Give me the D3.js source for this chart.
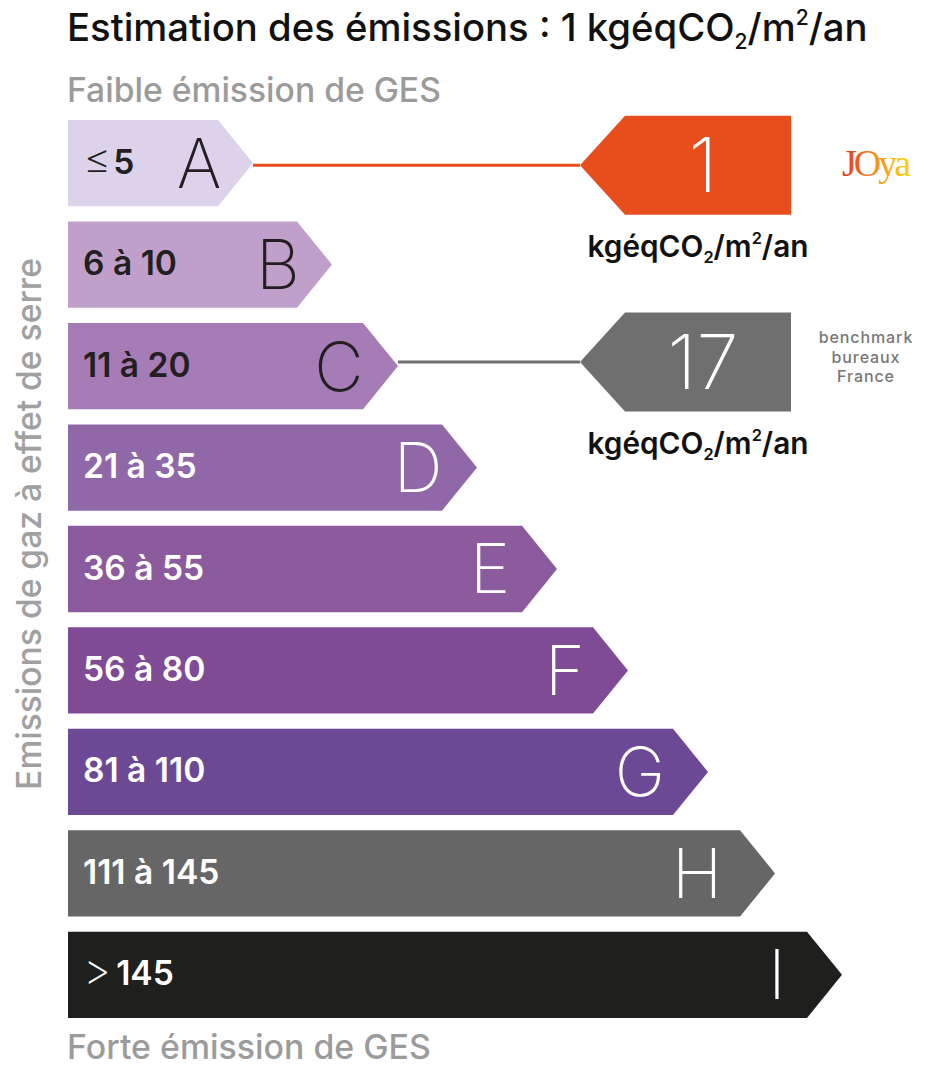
<!DOCTYPE html>
<html><head><meta charset="utf-8">
<script src="https://cdn.jsdelivr.net/npm/d3@7"></script>
<style>body{margin:0;background:#fff}</style>
</head><body><svg id="c" width="935" height="1080"></svg>
<script>
// ---------- data ----------
const classes = ["A","B","C","D","E","F","G","H","I"];
const rangeLabels = ["≤5","6 à 10","11 à 20","21 à 35","36 à 55","56 à 80","81 à 110","111 à 145","> 145"];
const upperBounds = [5,10,20,35,55,80,110,145,Infinity];
const barLength = [185,264,330,409,489,560,640,707,774];
const barColors = ["#dcd3ea","#c0a0cb","#a57cb5","#9068a8","#8b5b9e","#7f4b95","#6c4994","#666666","#1f1f1e"];
const estimateValue = 1;
const benchmarkValue = 17;
const benchmarkLabel = ["benchmark","bureaux","France"];
const titleText = "Estimation des émissions : ";
const lowLabel = "Faible émission de GES";
const highLabel = "Forte émission de GES";
const axisLabel = "Emissions de gaz à effet de serre";

// ---------- layout ----------
const svg = d3.select("#c");
const FONT = "Inter, 'Open Sans', sans-serif";
const y = d3.scaleBand().domain(classes).range([120, 1018]).paddingInner(0.1494).paddingOuter(0);
const x = d3.scaleLinear().domain([0, 774]).range([68, 842]);
const arrow = 35;
const letterShift = [-54,-54,-59,-59,-67,-63,-68,-78,-65];

function fit(sel, w) {
  const l = sel.node().getComputedTextLength();
  const fs = parseFloat(sel.attr("font-size"));
  sel.attr("font-size", fs * w / l);
}
function unit(t) {
  t.append("tspan").text("kgéqCO");
  t.append("tspan").attr("font-size","0.55em").attr("dy","0.4em").text("2");
  t.append("tspan").attr("dy","-0.22em").text("/m");
  t.append("tspan").attr("font-size","0.55em").attr("dy","-0.75em").text("2");
  t.append("tspan").attr("dy","0.4125em").text("/an");
}

// title
const title = svg.append("text").attr("x",67).attr("y",41).attr("font-family",FONT)
  .attr("font-weight",500).attr("font-size",31).attr("fill","#111");
title.append("tspan").text(titleText + estimateValue + " ");
unit(title);
fit(title, 801);

// low / high
const low = svg.append("text").attr("x",67).attr("y",102).attr("font-family",FONT)
  .attr("font-weight",500).attr("font-size",27).attr("fill","#9b9b9b").text(lowLabel);
fit(low, 374);
const high = svg.append("text").attr("x",67).attr("y",1059).attr("font-family",FONT)
  .attr("font-weight",500).attr("font-size",27).attr("fill","#9b9b9b").text(highLabel);
fit(high, 364);

// vertical axis label
const vl = svg.append("text").attr("transform","translate(41,524) rotate(-90)")
  .attr("text-anchor","middle").attr("font-family",FONT).attr("font-weight",500)
  .attr("font-size",28).attr("fill","#a0a0a0").text(axisLabel);
fit(vl, 532);

// bars
const data = classes.map((c,i)=>({c, i, label: rangeLabels[i], len: barLength[i], color: barColors[i]}));
const g = svg.append("g");
g.selectAll("path.bar").data(data).join("path").attr("class","bar")
  .attr("fill", d=>d.color)
  .attr("d", d=>{
    const x0 = x(0), tip = x(d.len), t = y(d.c), b = t + y.bandwidth(), m = t + y.bandwidth()/2;
    return `M${x0},${t}L${tip-arrow},${t}L${tip},${m}L${tip-arrow},${b}L${x0},${b}Z`;
  });

// range labels
const lbls = g.selectAll("text.rl").data(data).join("text").attr("class","rl")
  .attr("x", x(0)+15).attr("y", d=>y(d.c)+y.bandwidth()/2 + 10.5)
  .attr("font-family",FONT).attr("font-weight",600).attr("font-size",28)
  .attr("fill", d=>d.i<3 ? "#231f20" : "#fff");
lbls.each(function(d){
  const t = d3.select(this);
  const first = d.label[0];
  if (first === "≤" || first === ">") {
    t.append("tspan").attr("font-weight",200).attr("font-size","1.3em").text(first);
    t.append("tspan").attr("dx", first === ">" ? 5 : 2).attr("font-size","1em").text(d.label.slice(1).trim());
  } else t.text(d.label);
});
const ref = lbls.filter(d=>d.i===1);
const refLen = ref.node().getComputedTextLength();
lbls.attr("font-size", 28*94/refLen);
lbls.selectAll("tspan").filter(function(){ return d3.select(this).attr("font-size")==="1em"; })
  .attr("font-size", 28*94/refLen);

// letters
const LF = 68;
g.selectAll("text.letter").data(data).join("text").attr("class","letter")
  .attr("x", d=>x(d.len)+letterShift[d.i]).attr("y", d=>y(d.c)+y.bandwidth()/2 + LF*0.36)
  .attr("text-anchor","middle").attr("font-family",FONT).attr("font-weight",200)
  .attr("font-size",LF).attr("fill", d=>d.i<3 ? "#231f20" : "#fff").text(d=>d.c);

// indicators
function indicator(value, color, yOff) {
  const idx = upperBounds.findIndex(b => value <= b);
  const c = classes[idx];
  const m = y(c) + y.bandwidth()/2 + yOff;
  const tipX = 580, diagX = 625, right = 791, h = 49.5;
  svg.append("line").attr("x1", x(barLength[idx])).attr("x2", tipX).attr("y1", m).attr("y2", m)
    .attr("stroke", color).attr("stroke-width", 3);
  svg.append("path").attr("fill", color)
    .attr("d", `M${tipX},${m}L${diagX},${m-h}L${right},${m-h}L${right},${m+h}L${diagX},${m+h}Z`);
  svg.append("text").attr("x", 703).attr("y", m + 27).attr("text-anchor","middle")
    .attr("font-family",FONT).attr("font-weight",200).attr("font-size",76).attr("fill","#fff").text(value);
  const u = svg.append("text").attr("x", 698).attr("y", m + h + 42).attr("text-anchor","middle")
    .attr("font-family",FONT).attr("font-weight",600).attr("font-size",22).attr("fill","#111");
  unit(u);
  fit(u, 221);
  return m;
}
indicator(estimateValue, "#e84d1e", 2);
const mb = indicator(benchmarkValue, "#6f6f6f", -4);

// benchmark label
svg.append("g").selectAll("text").data(benchmarkLabel).join("text")
  .attr("text-anchor","middle").attr("font-family",FONT).attr("font-weight",500)
  .attr("font-size",16).attr("letter-spacing",0.9).attr("fill","#777")
  .attr("x", 866).attr("y", (d,i)=>mb - 19 + i*19.6).text(d=>d);

// logo
const defs = svg.append("defs");
const lg = defs.append("linearGradient").attr("id","joya").attr("x1","0").attr("x2","1");
lg.append("stop").attr("offset","0").attr("stop-color","#e6331f");
lg.append("stop").attr("offset","0.5").attr("stop-color","#f39323");
lg.append("stop").attr("offset","1").attr("stop-color","#ffd700");
svg.append("text").attr("x",842).attr("y",176).attr("font-family","'Liberation Serif', serif")
  .attr("font-size",38).attr("letter-spacing",-3).attr("fill","url(#joya)").text("JOya");
</script></body></html>
